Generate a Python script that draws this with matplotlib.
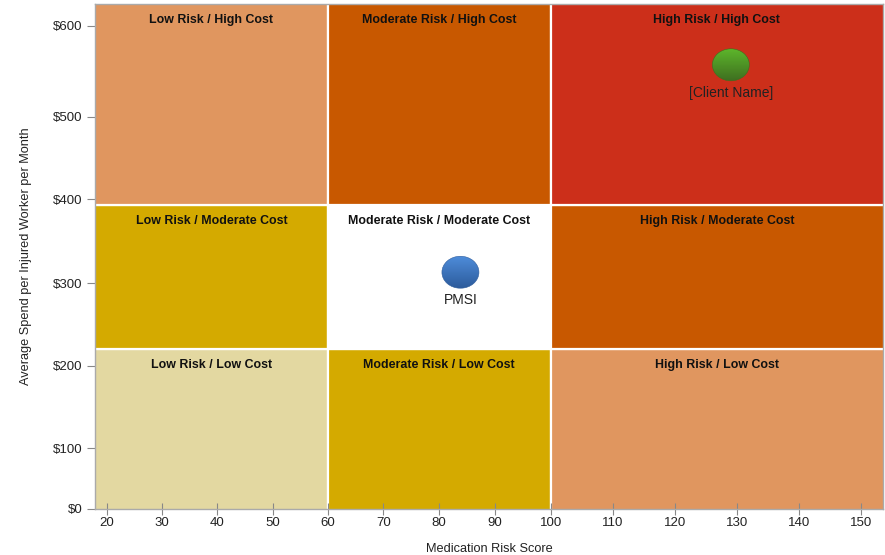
import numpy as np
import matplotlib
matplotlib.use("Agg")
import matplotlib.pyplot as plt
from matplotlib.patches import Rectangle, Circle
from matplotlib.transforms import Affine2D, ScaledTranslation
from matplotlib.colors import LinearSegmentedColormap

plt.rcParams['font.family'] = ['Liberation Sans', 'DejaVu Sans']

# ---------------- data ----------------
x_ticks = [20, 30, 40, 50, 60, 70, 80, 90, 100, 110, 120, 130, 140, 150]
y_ticks = [0, 100, 200, 300, 400, 500, 600]
y_tick_labels = ["$0", "$100", "$200", "$300", "$400", "$500", "$600"]

risk_edges = [0, 60, 100, 200]        # low / moderate / high risk bands
cost_edges = [-50, 220, 393, 700]     # low / moderate / high cost bands

cell_labels = [  # rows: low, moderate, high cost ; cols: low, moderate, high risk
    ["Low Risk / Low Cost", "Moderate Risk / Low Cost", "High Risk / Low Cost"],
    ["Low Risk / Moderate Cost", "Moderate Risk / Moderate Cost", "High Risk / Moderate Cost"],
    ["Low Risk / High Cost", "Moderate Risk / High Cost", "High Risk / High Cost"],
]
cell_colors = [
    ["#E3D8A1", "#D4AA00", "#E0965F"],
    ["#D4AA00", "#FFFFFF", "#C85800"],
    ["#E0965F", "#C85800", "#CC2F1A"],
]

point_names = ["PMSI", "[Client Name]"]
point_x = [83.8, 129.0]
point_y = [313, 557]
point_top_colors = ["#4E8CDA", "#5DB52B"]
point_bottom_colors = ["#2D5C9C", "#3E6F20"]

# ------------- scales (piecewise linear, as in the reference) -------------
x_knots = [20, 60, 100, 150]
x_knot_pos = [107.3, 327.7, 550.7, 861.0]
y_knots = [0, 100, 200, 300, 400, 500, 600]
y_knot_pos = [-509, -448.3, -366, -283.3, -199.3, -116.7, -26]


def piecewise(d, p):
    d = np.asarray(d, float)
    p = np.asarray(p, float)
    s0 = (p[1] - p[0]) / (d[1] - d[0])
    s1 = (p[-1] - p[-2]) / (d[-1] - d[-2])
    D = np.r_[d[0] - 1e4, d, d[-1] + 1e4]
    P = np.r_[p[0] - 1e4 * s0, p, p[-1] + 1e4 * s1]

    def fwd(v):
        return np.interp(v, D, P)

    def inv(v):
        return np.interp(v, P, D)
    return fwd, inv


XMIN, XMAX, YMIN, YMAX = 17.8, 153.5, 0, 624

fig = plt.figure(figsize=(8.85, 5.55), dpi=100)
ax = fig.add_axes([95 / 885, 1 - 509 / 555, 788 / 885, 505 / 555])
ax.set_xscale('function', functions=piecewise(x_knots, x_knot_pos))
ax.set_yscale('function', functions=piecewise(y_knots, y_knot_pos))
ax.set_xlim(XMIN, XMAX)
ax.set_ylim(YMIN, YMAX)
ax.set_autoscale_on(False)

fwdx, invx = piecewise(x_knots, x_knot_pos)

# cells
for r in range(3):
    for c in range(3):
        x0, x1 = risk_edges[c], risk_edges[c + 1]
        y0, y1 = cost_edges[r], cost_edges[r + 1]
        ax.add_patch(Rectangle((x0, y0), x1 - x0, y1 - y0,
                               facecolor=cell_colors[r][c], edgecolor='white',
                               linewidth=1.6, zorder=0))
        xl = max(x0, XMIN)
        xr = min(x1, XMAX)
        xc = invx((fwdx(xl) + fwdx(xr)) / 2)
        ytop = min(y1, YMAX)
        ax.annotate(cell_labels[r][c], xy=(xc, ytop), xytext=(0, -15.5),
                    textcoords='offset pixels', ha='center', va='center',
                    fontsize=8.9, fontweight='bold', color='#111111', zorder=3)

# bubbles: ellipses with vertical gradient
grad = np.linspace(0, 1, 64).reshape(-1, 1)
for name, px, py, ct, cb in zip(point_names, point_x, point_y,
                                 point_top_colors, point_bottom_colors):
    tr = Affine2D().scale(18.5, 16.0) + ScaledTranslation(px, py, ax.transData)
    ell = Circle((0, 0), 1.0, transform=tr, facecolor='none',
                 edgecolor=cb, linewidth=0.4, zorder=5)
    ax.add_patch(ell)
    cmap = LinearSegmentedColormap.from_list("g", [cb, ct])
    im = ax.imshow(grad, cmap=cmap, origin='lower', extent=(-1, 1, -1, 1),
                   transform=tr, interpolation='bilinear', zorder=4, aspect='auto')
    im.set_clip_path(ell)
    ax.annotate(name, xy=(px, py), xytext=(0, -28), textcoords='offset pixels',
                ha='center', va='center', fontsize=10, color='#222222', zorder=5)

ax.set_xlim(XMIN, XMAX)
ax.set_ylim(YMIN, YMAX)

# axes styling
ax.set_xticks(x_ticks)
ax.set_xticklabels([str(v) for v in x_ticks])
ax.set_yticks(y_ticks)
ax.set_yticklabels(y_tick_labels)
ax.minorticks_off()
ax.tick_params(axis='x', direction='inout', length=8, width=0.8, color='#888888',
               labelsize=9.5, labelcolor='#222222', pad=2)
ax.tick_params(axis='y', direction='out', length=6, width=0.8, color='#888888',
               labelsize=9.5, labelcolor='#222222', pad=3)
for s in ax.spines.values():
    s.set_color('#aaaaaa')
    s.set_linewidth(1.0)
    s.set_zorder(6)

ax.set_xlabel("Medication Risk Score", fontsize=9.2, color='#222222', labelpad=9.5)
ax.set_ylabel("Average Spend per Injured Worker per Month", fontsize=9.2,
              color='#222222', labelpad=15)

fig.savefig("out.png", dpi=100)
